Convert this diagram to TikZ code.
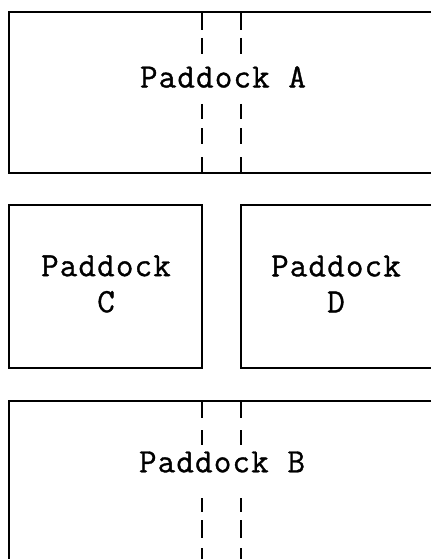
\documentclass[tikz,border=0pt]{standalone}
\usepackage{fontspec}
\newfontfamily\labelfont[LetterSpace=3.5,FakeBold=1]{Latin Modern Mono}
\begin{document}
\begin{tikzpicture}[x=1pt,y=-1pt,
  fence/.style={line width=2.4pt, line cap=butt},
  gate/.style={line width=2.2pt, line cap=butt},
  paddocklabel/.style={font=\labelfont\fontsize{34}{36}\selectfont, inner sep=0pt, align=center}]
\useasboundingbox (0,0) rectangle (431,559);
% Paddock A (runs off the right edge)
\draw[fence] (431,12) -- (9,12) -- (9,173) -- (431,173);
% Paddock C
\draw[fence] (9,205) rectangle (202,368);
% Paddock D (runs off the right edge)
\draw[fence] (431,205) -- (241,205) -- (241,368) -- (431,368);
% Paddock B (runs off the right and bottom edges)
\draw[fence] (431,401) -- (9,401) -- (9,559);
% Laneway through Paddock A
\foreach \xx in {202,241}{
  \draw[gate] (\xx,12) -- (\xx,30);
  \draw[gate] (\xx,38) -- (\xx,54);
  \draw[gate] (\xx,104) -- (\xx,119);
  \draw[gate] (\xx,128) -- (\xx,144);
  \draw[gate] (\xx,157) -- (\xx,173);
}
% Laneway through Paddock B
\foreach \xx in {202,241}{
  \draw[gate] (\xx,401) -- (\xx,418);
  \draw[gate] (\xx,430) -- (\xx,445);
  \draw[gate] (\xx,498) -- (\xx,512);
  \draw[gate] (\xx,520) -- (\xx,538);
  \draw[gate] (\xx,548) -- (\xx,559);
}
\node[paddocklabel] (pa) at (223,77) {Paddock A};
\node[paddocklabel] (pc) at (106,284) {Paddock\\C};
\node[paddocklabel] (pd) at (336,284) {Paddock\\D};
\node[paddocklabel] (pb) at (222,462) {Paddock B};
\end{tikzpicture}
\end{document}
